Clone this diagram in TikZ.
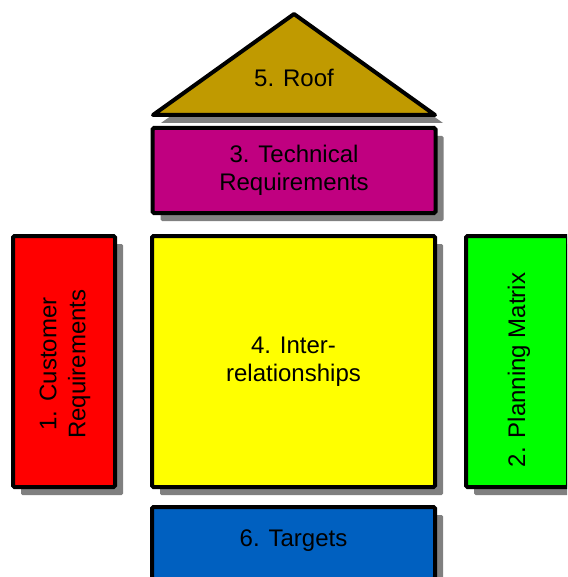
\documentclass[tikz,border=0pt]{standalone}
\usepackage{fontspec}
\setmainfont{Liberation Sans}
\usetikzlibrary{shadows}
\definecolor{roofc}{RGB}{192,154,0}
\definecolor{techc}{RGB}{192,0,128}
\definecolor{targc}{RGB}{0,96,192}
\definecolor{shadc}{RGB}{128,128,128}
\definecolor{yelc}{RGB}{255,255,0}
\definecolor{grnc}{RGB}{0,255,0}
\definecolor{redc}{RGB}{255,0,0}
\begin{document}
\begin{tikzpicture}[x=1pt,y=-1pt,
  part/.style={draw=black, line width=4pt, rounded corners=1.5pt, inner sep=0pt,
    align=center, font=\fontsize{24}{28}\selectfont,
    drop shadow={shadow xshift=8pt, shadow yshift=-8pt, fill=shadc, opacity=1}},
  lbl/.style={align=center, font=\fontsize{24}{29}\selectfont, inner sep=0pt}]
\useasboundingbox (0,0) rectangle (567,577);
\clip (0,0) rectangle (567,577);
% roof
\filldraw[fill=roofc, draw=black, line width=4pt, line join=round,
  drop shadow={shadow xshift=8pt, shadow yshift=-8pt, fill=shadc, opacity=1}]
  (153,115) -- (294,14) -- (435,115) -- cycle;
\node[lbl] (roof) at (294,78) {5. Roof};
% technical requirements
\node[part, fill=techc, minimum width=283pt, minimum height=85pt] (tech) at (294,170.5)
  {3. Technical\\Requirements};
% interrelationships
\node[part, fill=yelc, minimum width=283pt, minimum height=251pt] (inter) at (293.5,361.5)
  {4. Inter-\\relationships};
% customer requirements
\node[part, fill=redc, minimum width=102pt, minimum height=251pt] (cust) at (64,361.5) {};
\node[lbl, rotate=90] (custt) at (65,364) {1. Customer\\Requirements};
% planning matrix
\node[part, fill=grnc, minimum width=102pt, minimum height=251pt] (plan) at (517,361.5) {};
\node[lbl, rotate=90] (plant) at (519,370) {2. Planning Matrix};
% targets
\node[part, fill=targc, minimum width=283pt, minimum height=72pt] (targ) at (293.5,543)
  {};
\node[lbl] (targt) at (293.5,541) {6. Targets};
\end{tikzpicture}
\end{document}
